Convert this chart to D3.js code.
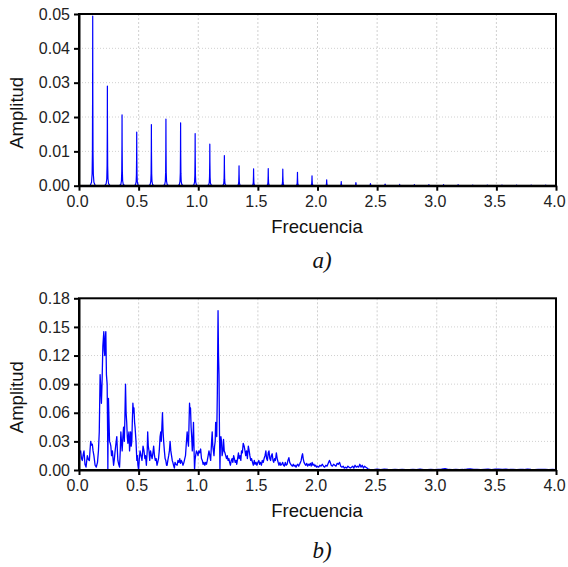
<!DOCTYPE html>
<html><head><meta charset="utf-8">
<script src="https://cdn.jsdelivr.net/npm/d3@7"></script>
<style>
html,body{margin:0;padding:0;background:#fff;}
svg{display:block;}
text{font-family:"Liberation Sans",Arial,sans-serif;}
</style></head>
<body>
<svg id="chart" width="568" height="567"></svg>
<script>
// ---------- Data ----------
const xTicks = [0.0,0.5,1.0,1.5,2.0,2.5,3.0,3.5,4.0];
const yTicksA = [0.00,0.01,0.02,0.03,0.04,0.05];
const yTicksB = [0.00,0.03,0.06,0.09,0.12,0.15,0.18];

// (a) harmonic peaks
const peakFreqA = [0.115,0.238,0.361,0.484,0.607,0.729,0.852,0.974,1.097,1.219,1.342,1.464,1.587,1.709,1.832,1.954,2.077,2.199,2.322,2.444,2.567,2.689,2.812,2.934,3.057,3.179,3.302,3.424,3.547,3.669,3.792,3.914];
const peakAmpA  = [0.0494,0.0290,0.0206,0.0156,0.0178,0.0194,0.0183,0.0152,0.0121,0.0088,0.0058,0.0049,0.0050,0.0048,0.0039,0.0029,0.0017,0.0012,0.0009,0.0006,0.0005,0.0004,0.0003,0.0003,0.0003,0.0003,0.0002,0.0002,0.0002,0.0002,0.0002,0.0002];
// spike line profile (drawing style): offset from peak, fraction of peak
const spikeOffset = [-0.022,-0.010,-0.005,-0.0025,-0.0008,0,0.0008,0.0025,0.005,0.010,0.022];
const spikeFrac   = [0.0,0.02,0.07,0.2,0.57,1,0.57,0.2,0.07,0.02,0.0];

// (b) noisy spectrum
const freqB = [0.000,0.007,0.014,0.021,0.028,0.035,0.042,0.050,0.059,0.065,0.070,0.078,0.087,0.092,0.098,0.105,0.112,0.118,0.125,0.135,0.145,0.155,0.163,0.170,0.177,0.183,0.188,0.194,0.200,0.208,0.212,0.216,0.221,0.225,0.230,0.236,0.240,0.242,0.244,0.247,0.252,0.256,0.262,0.267,0.273,0.280,0.290,0.297,0.303,0.310,0.317,0.322,0.326,0.333,0.340,0.346,0.351,0.356,0.362,0.368,0.374,0.380,0.385,0.390,0.395,0.400,0.405,0.410,0.414,0.419,0.424,0.429,0.433,0.438,0.443,0.447,0.452,0.457,0.461,0.466,0.470,0.478,0.485,0.490,0.494,0.500,0.506,0.512,0.520,0.528,0.537,0.545,0.552,0.558,0.565,0.572,0.576,0.581,0.587,0.593,0.600,0.607,0.613,0.620,0.626,0.633,0.640,0.647,0.654,0.660,0.667,0.673,0.680,0.686,0.690,0.695,0.700,0.705,0.710,0.716,0.722,0.728,0.734,0.739,0.745,0.752,0.758,0.764,0.770,0.776,0.782,0.787,0.793,0.800,0.805,0.812,0.823,0.830,0.838,0.845,0.851,0.858,0.865,0.872,0.880,0.887,0.893,0.900,0.907,0.913,0.918,0.923,0.927,0.931,0.935,0.940,0.945,0.950,0.955,0.960,0.965,0.969,0.973,0.978,0.985,0.992,0.998,1.005,1.012,1.020,1.027,1.034,1.041,1.048,1.055,1.062,1.069,1.076,1.083,1.090,1.097,1.104,1.108,1.112,1.117,1.122,1.127,1.132,1.137,1.142,1.146,1.150,1.155,1.160,1.166,1.170,1.174,1.178,1.182,1.186,1.190,1.195,1.200,1.207,1.212,1.218,1.224,1.230,1.237,1.243,1.250,1.257,1.263,1.270,1.277,1.284,1.290,1.297,1.303,1.310,1.317,1.323,1.330,1.337,1.343,1.350,1.357,1.363,1.370,1.377,1.385,1.392,1.398,1.405,1.412,1.420,1.427,1.433,1.440,1.447,1.455,1.462,1.470,1.477,1.485,1.492,1.500,1.508,1.515,1.522,1.530,1.537,1.545,1.552,1.560,1.567,1.573,1.580,1.587,1.593,1.600,1.607,1.613,1.620,1.627,1.633,1.640,1.647,1.655,1.662,1.670,1.677,1.685,1.692,1.700,1.708,1.715,1.722,1.730,1.737,1.745,1.752,1.760,1.767,1.775,1.782,1.790,1.797,1.805,1.812,1.820,1.827,1.835,1.842,1.850,1.857,1.863,1.870,1.875,1.880,1.887,1.895,1.902,1.910,1.917,1.925,1.932,1.940,1.947,1.955,1.962,1.970,1.977,1.985,1.992,2.000,2.010,2.020,2.030,2.040,2.050,2.060,2.070,2.080,2.090,2.100,2.107,2.115,2.125,2.135,2.145,2.155,2.165,2.175,2.185,2.195,2.205,2.215,2.225,2.235,2.245,2.255,2.265,2.275,2.285,2.295,2.305,2.315,2.325,2.335,2.345,2.355,2.365,2.375,2.385,2.395,2.405,2.415,2.425,2.44,2.47,2.50,2.53,2.56,2.59,2.62,2.65,2.68,2.71,2.74,2.77,2.80,2.83,2.86,2.89,2.92,2.95,2.98,3.01,3.04,3.07,3.10,3.13,3.16,3.19,3.22,3.25,3.28,3.31,3.34,3.37,3.40,3.43,3.46,3.49,3.52,3.55,3.58,3.61,3.64,3.67,3.70,3.73,3.76,3.79,3.82,3.85,3.88,3.91,3.94,3.97,4.00];
const ampB = [0.022,0.018,0.020,0.012,0.010,0.016,0.020,0.006,0.003,0.010,0.015,0.011,0.010,0.020,0.030,0.026,0.027,0.020,0.015,0.005,0.003,0.008,0.020,0.040,0.100,0.085,0.070,0.095,0.130,0.145,0.125,0.120,0.140,0.145,0.100,0.090,0.040,0.000,0.040,0.075,0.050,0.030,0.028,0.025,0.015,0.020,0.005,0.012,0.020,0.028,0.035,0.020,0.010,0.006,0.003,0.020,0.040,0.030,0.020,0.035,0.045,0.030,0.055,0.090,0.060,0.050,0.035,0.028,0.035,0.040,0.020,0.030,0.040,0.025,0.030,0.050,0.070,0.060,0.065,0.050,0.045,0.030,0.010,0.015,0.005,0.000,0.012,0.020,0.015,0.010,0.025,0.020,0.012,0.015,0.005,0.020,0.040,0.025,0.020,0.010,0.020,0.015,0.012,0.018,0.025,0.015,0.010,0.012,0.005,0.008,0.012,0.020,0.035,0.040,0.030,0.045,0.060,0.040,0.030,0.020,0.012,0.010,0.005,0.005,0.010,0.015,0.020,0.030,0.020,0.015,0.010,0.008,0.005,0.002,0.008,0.006,0.005,0.010,0.008,0.012,0.007,0.010,0.008,0.005,0.008,0.012,0.015,0.028,0.040,0.030,0.025,0.050,0.070,0.060,0.065,0.045,0.035,0.020,0.030,0.050,0.020,0.000,0.010,0.015,0.020,0.018,0.015,0.020,0.018,0.022,0.012,0.010,0.006,0.008,0.005,0.008,0.006,0.010,0.015,0.020,0.015,0.010,0.020,0.030,0.040,0.025,0.020,0.015,0.025,0.030,0.050,0.045,0.035,0.080,0.167,0.120,0.100,0.040,0.000,0.030,0.035,0.030,0.015,0.020,0.032,0.020,0.018,0.015,0.012,0.015,0.010,0.012,0.008,0.005,0.010,0.012,0.008,0.015,0.012,0.008,0.010,0.006,0.012,0.018,0.012,0.015,0.010,0.020,0.018,0.028,0.025,0.020,0.015,0.020,0.012,0.025,0.020,0.015,0.010,0.012,0.008,0.005,0.010,0.006,0.008,0.005,0.008,0.010,0.006,0.008,0.005,0.010,0.008,0.012,0.015,0.020,0.012,0.010,0.018,0.020,0.012,0.010,0.015,0.017,0.010,0.008,0.012,0.010,0.018,0.012,0.008,0.005,0.008,0.005,0.006,0.008,0.005,0.004,0.008,0.005,0.006,0.010,0.013,0.008,0.006,0.005,0.004,0.006,0.004,0.005,0.003,0.005,0.006,0.004,0.006,0.008,0.010,0.015,0.017,0.012,0.008,0.006,0.005,0.007,0.004,0.006,0.005,0.007,0.004,0.008,0.005,0.006,0.004,0.005,0.003,0.004,0.003,0.005,0.004,0.006,0.004,0.003,0.005,0.004,0.007,0.010,0.008,0.005,0.004,0.006,0.005,0.004,0.007,0.006,0.008,0.004,0.003,0.004,0.002,0.003,0.002,0.004,0.003,0.002,0.003,0.004,0.002,0.005,0.003,0.004,0.003,0.006,0.003,0.005,0.002,0.004,0.003,0.002,0.001,0.0006,0.0004,0.0008,0.0005,0.0010,0.0006,0.0004,0.0007,0.0003,0.0005,0.0004,0.0003,0.0006,0.0004,0.0010,0.0004,0.0003,0.0005,0.0004,0.0006,0.0008,0.0015,0.0005,0.0004,0.0006,0.0003,0.0005,0.0008,0.0012,0.0006,0.0005,0.0004,0.0007,0.0009,0.0005,0.0008,0.0010,0.0006,0.0009,0.0005,0.0007,0.0004,0.0006,0.0005,0.0010,0.0006,0.0004,0.0007,0.0005,0.0006,0.0004,0.0005,0.0003];

// ---------- Drawing ----------
const svg = d3.select("#chart");
const L = 79, R = 556;
const panels = [
  {top:14, bottom:185.7, yDomain:[0,0.05], yTicks:yTicksA, fmt:d3.format(".2f"), label:"a)", labelY:268},
  {top:298.3, bottom:470, yDomain:[0,0.18], yTicks:yTicksB, fmt:d3.format(".2f"), label:"b)", labelY:558}
];

function buildSpikes(){
  const pts = [[0,0]];
  peakFreqA.forEach((f,i)=>{
    spikeOffset.forEach((o,j)=>pts.push([f+o, peakAmpA[i]*spikeFrac[j]]));
  });
  pts.push([4,0]);
  return pts;
}

panels.forEach((p,pi)=>{
  const x = d3.scaleLinear().domain([0,4]).range([L,R]);
  const y = d3.scaleLinear().domain(p.yDomain).range([p.bottom,p.top]);
  const g = svg.append("g");

  // grid
  g.selectAll(".gx").data(xTicks.slice(1,-1)).enter().append("line")
    .attr("x1",d=>x(d)).attr("x2",d=>x(d)).attr("y1",p.top).attr("y2",p.bottom)
    .attr("stroke","#d0d0d0").attr("stroke-width",1).attr("stroke-dasharray","2,2");
  g.selectAll(".gy").data(p.yTicks.slice(1,-1)).enter().append("line")
    .attr("x1",L).attr("x2",R).attr("y1",d=>y(d)).attr("y2",d=>y(d))
    .attr("stroke","#d0d0d0").attr("stroke-width",1).attr("stroke-dasharray","1,2");

  // data
  const clipId = "clip"+pi;
  svg.append("clipPath").attr("id",clipId).append("rect")
    .attr("x",L).attr("y",p.top-2).attr("width",R-L).attr("height",p.bottom-p.top+2);
  const line = d3.line().x(d=>x(d[0])).y(d=>y(d[1]));
  const pts = pi===0 ? buildSpikes() : freqB.map((f,i)=>[f,ampB[i]]);
  g.append("path").datum(pts).attr("d",line)
    .attr("fill","none").attr("stroke","#0000ff").attr("stroke-width",pi===0?1.2:1.3)
    .attr("stroke-linejoin","round").attr("clip-path",`url(#${clipId})`);

  // frame
  g.append("rect").attr("x",L).attr("y",p.top).attr("width",R-L).attr("height",p.bottom-p.top)
    .attr("fill","none").attr("stroke","#000").attr("stroke-width",2);

  // axes
  const xAxis = d3.axisBottom(x).tickValues(xTicks).tickFormat(d3.format(".1f")).tickSize(5).tickSizeOuter(0).tickPadding(5);
  const ax = g.append("g").attr("transform",`translate(0,${p.bottom})`).call(xAxis);
  const yAxis = d3.axisLeft(y).tickValues(p.yTicks).tickFormat(p.fmt).tickSize(5).tickSizeOuter(0).tickPadding(4);
  const ay = g.append("g").attr("transform",`translate(${L},0)`).call(yAxis);
  [ax,ay].forEach(a=>{
    a.select(".domain").attr("stroke","#000").attr("stroke-width",2);
    a.selectAll(".tick line").attr("stroke","#000").attr("stroke-width",2);
    a.selectAll(".tick text").attr("fill","#222").style("font-size","16px").style("font-family","'Liberation Sans',Arial,sans-serif");
  });
  ax.selectAll(".tick text").attr("dx","-2");

  // axis titles
  g.append("text").attr("x",317).attr("y",p.bottom+47).attr("text-anchor","middle")
    .style("font-size","18.5px").attr("fill","#111").text("Frecuencia");
  g.append("text").attr("transform",`translate(23,${(p.top+p.bottom)/2+13}) rotate(-90)`)
    .attr("text-anchor","middle").style("font-size","18.5px").attr("fill","#111").text("Amplitud");

  // panel label
  g.append("text").attr("x",322).attr("y",p.labelY).attr("text-anchor","middle")
    .style("font-family","'Liberation Serif','Times New Roman',serif").style("font-style","italic")
    .style("font-size","23px").attr("fill","#111").text(p.label);
});
</script>
</body></html>
